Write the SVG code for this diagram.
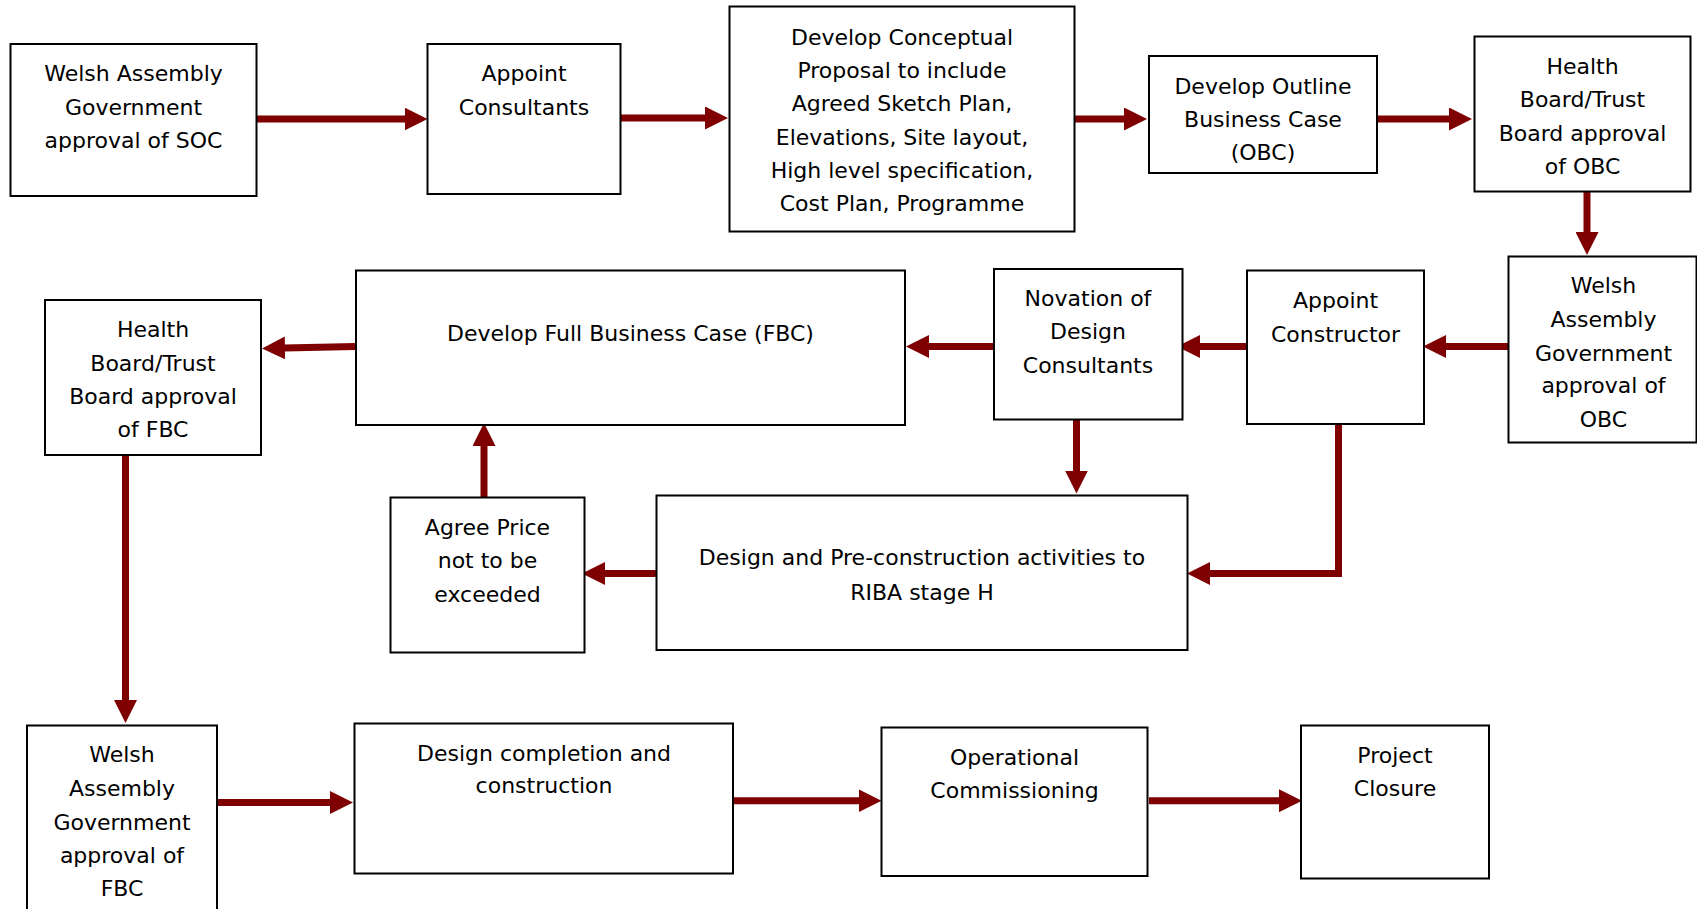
<svg xmlns="http://www.w3.org/2000/svg" width="1697" height="909" viewBox="0 0 1697 909">
<style>
.box{fill:#fff;stroke:#000;stroke-width:2}
.t{font-family:"DejaVu Sans","Liberation Sans",sans-serif;font-size:22px;fill:#000;text-anchor:middle}
.c{fill:none;stroke:#7f0000;stroke-width:7;stroke-linejoin:miter;marker-end:url(#ah)}
</style>
<defs>
<marker id="ah" viewBox="-1 0 24 23" refX="0" refY="11.5" markerWidth="24" markerHeight="23" markerUnits="userSpaceOnUse" orient="auto">
<path d="M-1,0 L22,11.5 L-1,23 z" fill="#7f0000"/>
</marker>
</defs>
<rect width="1697" height="909" fill="#fff"/>
<g id="connectors">
<path class="c" d="M256.8,119 L405.5,119"/>
<path class="c" d="M621,118 L706,118"/>
<path class="c" d="M1074,119 L1125,119"/>
<path class="c" d="M1377,119 L1450,119"/>
<path class="c" d="M1587,192 L1587,233"/>
<path class="c" d="M1508,346.5 L1445,346.5"/>
<path class="c" d="M1246,346.5 L1199,346.5"/>
<path class="c" d="M993,346.5 L928,346.5"/>
<path class="c" d="M355,346.5 L284,348"/>
<path class="c" d="M1076.5,420 L1076.5,471.5"/>
<path class="c" d="M1338.5,424 L1338.5,573.5 L1209,573.5"/>
<path class="c" d="M658,573.5 L604,573.5"/>
<path class="c" d="M484,497 L484,445"/>
<path class="c" d="M125.5,456 L125.5,701"/>
<path class="c" d="M218,802.5 L331,802.5"/>
<path class="c" d="M731,800.7 L859.5,800.7"/>
<path class="c" d="M1149,800.7 L1280,800.7"/>
</g>
<g id="n1"><rect class="box" x="10.5" y="44" width="246" height="152"/>
<text class="t" x="133.5" y="81">Welsh Assembly</text><text class="t" x="133.5" y="115">Government</text><text class="t" x="133.5" y="148">approval of SOC</text></g>
<g id="n2"><rect class="box" x="427.5" y="44" width="193" height="150"/>
<text class="t" x="524" y="81">Appoint</text><text class="t" x="524" y="115">Consultants</text></g>
<g id="n3"><rect class="box" x="729.5" y="6.5" width="345" height="225"/>
<text class="t" x="902" y="45">Develop Conceptual</text><text class="t" x="902" y="78">Proposal to include</text><text class="t" x="902" y="111">Agreed Sketch Plan,</text><text class="t" x="902" y="145">Elevations, Site layout,</text><text class="t" x="902" y="178">High level specification,</text><text class="t" x="902" y="211">Cost Plan, Programme</text></g>
<g id="n4"><rect class="box" x="1149" y="56" width="228" height="117"/>
<text class="t" x="1263" y="94">Develop Outline</text><text class="t" x="1263" y="127">Business Case</text><text class="t" x="1263" y="160">(OBC)</text></g>
<g id="n5"><rect class="box" x="1474.5" y="36.5" width="216" height="155"/>
<text class="t" x="1582.5" y="74">Health</text><text class="t" x="1582.5" y="107">Board/Trust</text><text class="t" x="1582.5" y="141">Board approval</text><text class="t" x="1582.5" y="174">of OBC</text></g>
<g id="n6"><rect class="box" x="1508.5" y="256.5" width="188" height="186"/>
<text class="t" x="1603.5" y="293">Welsh</text><text class="t" x="1603.5" y="327">Assembly</text><text class="t" x="1603.5" y="361">Government</text><text class="t" x="1603.5" y="393">approval of</text><text class="t" x="1603.5" y="427">OBC</text></g>
<g id="n7"><rect class="box" x="1247" y="270.5" width="177" height="153.5"/>
<text class="t" x="1335.5" y="308">Appoint</text><text class="t" x="1335.5" y="342">Constructor</text></g>
<g id="n8"><rect class="box" x="994" y="269" width="188.5" height="150.5"/>
<text class="t" x="1088" y="306">Novation of</text><text class="t" x="1088" y="339">Design</text><text class="t" x="1088" y="373">Consultants</text></g>
<g id="n9"><rect class="box" x="356" y="270.5" width="549" height="154.5"/>
<text class="t" x="630.5" y="341">Develop Full Business Case (FBC)</text></g>
<g id="n10"><rect class="box" x="45" y="300" width="216" height="155"/>
<text class="t" x="153" y="337">Health</text><text class="t" x="153" y="371">Board/Trust</text><text class="t" x="153" y="404">Board approval</text><text class="t" x="153" y="437">of FBC</text></g>
<g id="n11"><rect class="box" x="390.5" y="497.5" width="194" height="155"/>
<text class="t" x="487.5" y="535">Agree Price</text><text class="t" x="487.5" y="568">not to be</text><text class="t" x="487.5" y="602">exceeded</text></g>
<g id="n12"><rect class="box" x="656.5" y="495.5" width="531" height="154.5"/>
<text class="t" x="922" y="565">Design and Pre-construction activities to</text><text class="t" x="922" y="600">RIBA stage H</text></g>
<g id="n13"><rect class="box" x="27" y="725.5" width="190" height="200"/>
<text class="t" x="122" y="762">Welsh</text><text class="t" x="122" y="796">Assembly</text><text class="t" x="122" y="830">Government</text><text class="t" x="122" y="863">approval of</text><text class="t" x="122" y="896">FBC</text></g>
<g id="n14"><rect class="box" x="354.5" y="723.5" width="378.5" height="150"/>
<text class="t" x="544" y="761">Design completion and</text><text class="t" x="544" y="793">construction</text></g>
<g id="n15"><rect class="box" x="881.5" y="727.5" width="266" height="148.5"/>
<text class="t" x="1014.5" y="765">Operational</text><text class="t" x="1014.5" y="798">Commissioning</text></g>
<g id="n16"><rect class="box" x="1301" y="725.5" width="188" height="153"/>
<text class="t" x="1395" y="763">Project</text><text class="t" x="1395" y="796">Closure</text></g>
</svg>
